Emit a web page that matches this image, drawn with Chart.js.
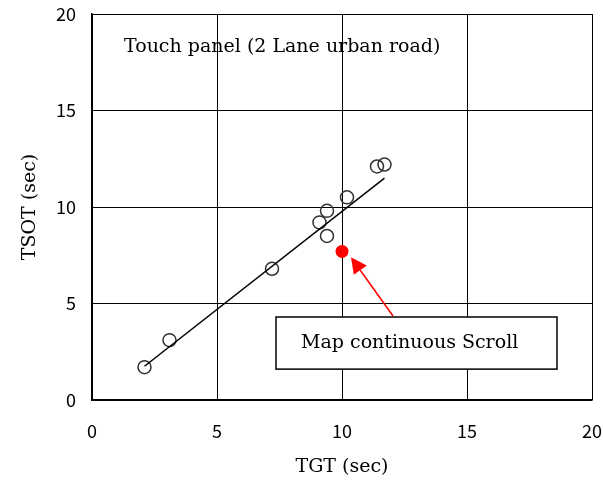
<!DOCTYPE html>
<html>
<head>
<meta charset="utf-8">
<script src="https://cdn.jsdelivr.net/npm/chart.js@4"></script>
<style>
  html, body { margin: 0; padding: 0; background: #fff; }
  #wrap { width: 603px; height: 491px; }
</style>
</head>
<body>
<div id="wrap"><canvas id="tsotChart" width="603" height="491"></canvas></div>
<script>
// touch panel measurements (TGT vs TSOT, seconds)
const tgtValues  = [2.1, 3.1, 7.2, 9.1, 9.4, 9.4, 10.2, 11.4, 11.7];
const tsotValues = [1.7, 3.1, 6.8, 9.2, 9.8, 8.5, 10.5, 12.1, 12.2];

// map continuous scroll task
const scrollTgt  = [10.0];
const scrollTsot = [7.7];

// regression line end points
const fitTgt  = [2.1, 11.7];
const fitTsot = [1.75, 11.5];

const axisTicks = [0, 5, 10, 15, 20];

const serif = "'DejaVu Serif', serif";
const sans = "'Noto Sans CJK JP', sans-serif";

function toPoints(xs, ys) {
    return xs.map((x, i) => ({ x: x, y: ys[i] }));
}

// text, box and arrow drawn on top, anchored in data units
const notesPlugin = {
    id: 'notes',
    afterDatasetsDraw(chart) {
        const ctx = chart.ctx;
        const xs = chart.scales.x, ys = chart.scales.y;
        ctx.save();

        ctx.fillStyle = '#000';
        ctx.font = '19px ' + serif;
        ctx.textBaseline = 'middle';
        ctx.fillText('Touch panel (2 Lane urban road)', xs.getPixelForValue(1.28), ys.getPixelForValue(18.3));

        // label box
        const bx1 = xs.getPixelForValue(7.36), bx2 = xs.getPixelForValue(18.6);
        const by1 = ys.getPixelForValue(4.3), by2 = ys.getPixelForValue(1.6);
        ctx.fillStyle = '#fff';
        ctx.fillRect(bx1, by1, bx2 - bx1, by2 - by1);
        ctx.strokeStyle = '#000';
        ctx.lineWidth = 1.5;
        ctx.strokeRect(bx1, by1, bx2 - bx1, by2 - by1);
        ctx.fillStyle = '#000';
        ctx.fillText('Map continuous Scroll', bx1 + 25, (by1 + by2) / 2);

        // arrow to the red point
        const ax = xs.getPixelForValue(12.04), ay = ys.getPixelForValue(4.35);
        const tx = xs.getPixelForValue(10.36), ty = ys.getPixelForValue(7.4);
        const ang = Math.atan2(ty - ay, tx - ax);
        const headLen = 16, headW = 8;
        const baseX = tx - headLen * Math.cos(ang), baseY = ty - headLen * Math.sin(ang);
        ctx.strokeStyle = '#ff0000';
        ctx.fillStyle = '#ff0000';
        ctx.lineWidth = 1.5;
        ctx.beginPath();
        ctx.moveTo(ax, ay);
        ctx.lineTo(baseX, baseY);
        ctx.stroke();
        ctx.beginPath();
        ctx.moveTo(tx, ty);
        ctx.lineTo(baseX + headW * Math.sin(ang), baseY - headW * Math.cos(ang));
        ctx.lineTo(baseX - headW * Math.sin(ang), baseY + headW * Math.cos(ang));
        ctx.closePath();
        ctx.fill();

        ctx.restore();
    }
};

const ctx = document.getElementById('tsotChart').getContext('2d');
new Chart(ctx, {
    type: 'scatter',
    data: {
        datasets: [
            {
                label: 'Fit',
                type: 'line',
                data: toPoints(fitTgt, fitTsot),
                borderColor: '#000',
                borderWidth: 1.5,
                pointRadius: 0,
                fill: false
            },
            {
                label: 'Touch panel',
                data: toPoints(tgtValues, tsotValues),
                pointRadius: 6.5,
                pointBorderWidth: 1.5,
                pointBorderColor: '#333',
                pointBackgroundColor: 'rgba(255,255,255,0)'
            },
            {
                label: 'Map continuous Scroll',
                data: toPoints(scrollTgt, scrollTsot),
                pointRadius: 6.5,
                pointBorderWidth: 0,
                pointBackgroundColor: '#ff0000'
            }
        ]
    },
    options: {
        responsive: false,
        animation: false,
        layout: { padding: { top: 14, right: 11, left: 0, bottom: 0 } },
        plugins: {
            legend: { display: false },
            tooltip: { enabled: false }
        },
        scales: {
            x: {
                type: 'linear',
                min: 0,
                max: 20,
                afterBuildTicks: axis => { axis.ticks = axisTicks.map(v => ({ value: v })); },
                afterFit: axis => {
                    axis.height = 91;
                    axis.paddingLeft = 0;
                    axis.paddingRight = 0;
                },
                grid: { color: '#000', lineWidth: 1, drawTicks: false },
                border: { color: '#000', width: 1.5 },
                ticks: { color: '#000', font: { family: sans, size: 18 }, padding: 20, maxRotation: 0 },
                title: { display: true, text: 'TGT (sec)', color: '#000', font: { family: serif, size: 19 }, padding: { bottom: 13 } }
            },
            y: {
                type: 'linear',
                min: 0,
                max: 20,
                afterBuildTicks: axis => { axis.ticks = axisTicks.map(v => ({ value: v })); },
                afterFit: axis => {
                    axis.width = 92;
                    axis.paddingTop = 0;
                    axis.paddingBottom = 0;
                },
                grid: { color: '#000', lineWidth: 1, drawTicks: false },
                border: { color: '#000', width: 1.5 },
                ticks: { color: '#000', font: { family: sans, size: 18 }, padding: 16 },
                title: { display: true, text: 'TSOT (sec)', color: '#000', font: { family: serif, size: 19 }, padding: { top: 19 } }
            }
        }
    },
    plugins: [notesPlugin]
});
</script>
</body>
</html>
